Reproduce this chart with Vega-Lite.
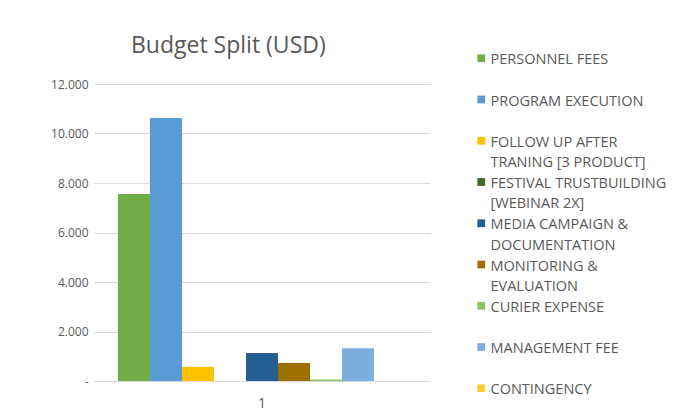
{
  "$schema": "https://vega.github.io/schema/vega-lite/v6.json",
  "autosize": {"type": "none"},
  "width": 336,
  "height": 297,
  "padding": {"left": 94, "top": 84, "right": 255, "bottom": 36},
  "background": "white",
  "title": {
    "text": "Budget Split (USD)",
    "font": "Open Sans",
    "fontSize": 23,
    "fontWeight": "normal",
    "color": "#595959",
    "anchor": "start",
    "frame": "group",
    "dx": 37,
    "dy": 52,
    "baseline": "alphabetic",
    "offset": 27
  },
  "data": {
    "values": [
      {"group": "1", "category": "PERSONNEL FEES|", "value": 7560},
      {"group": "1", "category": "PROGRAM EXECUTION|", "value": 10630},
      {"group": "1", "category": "FOLLOW UP AFTER|TRANING [3 PRODUCT]", "value": 570},
      {"group": "1", "category": "FESTIVAL TRUSTBUILDING|[WEBINAR 2X]", "value": 0},
      {"group": "1", "category": "MEDIA CAMPAIGN &|DOCUMENTATION", "value": 1130},
      {"group": "1", "category": "MONITORING &|EVALUATION", "value": 730},
      {"group": "1", "category": "CURIER EXPENSE|", "value": 60},
      {"group": "1", "category": "MANAGEMENT FEE|", "value": 1320},
      {"group": "1", "category": "CONTINGENCY|", "value": 0}
    ]
  },
  "mark": {"type": "bar"},
  "encoding": {
    "x": {
      "field": "group",
      "type": "nominal",
      "scale": {"paddingInner": 0, "paddingOuter": 0},
      "axis": {
        "title": null,
        "labelAngle": 0,
        "ticks": false,
        "domain": true,
        "domainColor": "#d9d9d9",
        "labelColor": "#595959",
        "labelFont": "Open Sans",
        "labelFontSize": 14,
        "labelPadding": 15
      }
    },
    "xOffset": {
      "field": "category",
      "type": "nominal",
      "sort": null,
      "scale": {"paddingInner": 0, "paddingOuter": 0.75}
    },
    "y": {
      "field": "value",
      "type": "quantitative",
      "scale": {"domain": [0, 12000]},
      "axis": {
        "title": null,
        "values": [0, 2000, 4000, 6000, 8000, 10000, 12000],
        "labelExpr": "datum.value === 0 ? '-' : replace(format(datum.value, ','), ',', '.')",
        "domain": false,
        "ticks": false,
        "gridColor": "#d9d9d9",
        "labelColor": "#595959",
        "labelFont": "Open Sans",
        "labelFontSize": 12,
        "labelPadding": 6
      }
    },
    "color": {
      "field": "category",
      "type": "nominal",
      "sort": null,
      "scale": {
        "range": ["#70ad47", "#5b9bd5", "#ffc000", "#43682b", "#255e91", "#9e7000", "#8cc168", "#7cafdd", "#ffcd33"]
      },
      "legend": {
        "title": null,
        "orient": "none",
        "legendX": 380,
        "legendY": -33,
        "symbolType": "square",
        "symbolSize": 60,
        "symbolStrokeWidth": 0,
        "labelExpr": "split(datum.label, '|')",
        "labelFont": "Open Sans",
        "labelFontSize": 14.5,
        "labelColor": "#595959",
        "labelBaseline": "top",
        "labelLimit": 250,
        "labelOffset": 2,
        "rowPadding": 5.25,
        "encode": {
          "labels": {"update": {"lineHeight": {"value": 20.25}, "dy": {"value": -5}}}
        }
      }
    }
  },
  "config": {"view": {"stroke": null}}
}
